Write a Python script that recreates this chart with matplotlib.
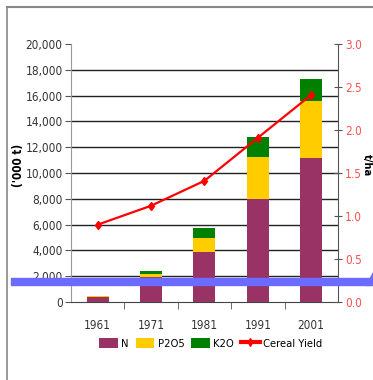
import matplotlib
matplotlib.use("Agg")
import matplotlib.pyplot as plt
from matplotlib.patches import Patch, Rectangle
from matplotlib.lines import Line2D
import numpy as np

plt.rcParams['font.family'] = ['DejaVu Sans']
plt.rcParams['font.stretch'] = 'condensed'

years = ["1961", "1971", "1981", "1991", "2001"]
n_vals = [360, 1940, 3880, 8000, 11150]
p2o5_vals = [110, 230, 1080, 3250, 4450]
k2o_vals = [30, 230, 780, 1550, 1700]
cereal_yield = [0.90, 1.12, 1.41, 1.91, 2.41]
left_ticks = [0, 2000, 4000, 6000, 8000, 10000, 12000, 14000, 16000, 18000, 20000]
right_ticks = [0.0, 0.5, 1.0, 1.5, 2.0, 2.5, 3.0]

c_n = "#993366"
c_p = "#FFCC00"
c_k = "#008000"
c_line = "#FF0000"

fig = plt.figure(figsize=(3.73, 3.80), dpi=100)
ax = fig.add_axes([0.190, 0.205, 0.716, 0.679])

x = np.arange(len(years))
w = 0.41
n = np.array(n_vals)
p = np.array(p2o5_vals)
k = np.array(k2o_vals)
ax.bar(x, n, w, color=c_n, zorder=3)
ax.bar(x, p, w, bottom=n, color=c_p, zorder=3)
ax.bar(x, k, w, bottom=n + p, color=c_k, zorder=3)

ax.set_xlim(-0.5, len(years) - 0.5)
ax.set_ylim(0, 20000)
ax.set_yticks(left_ticks)
ax.set_yticklabels([f"{v:,}" for v in left_ticks], fontsize=8.5, color="#333333")
for v in left_ticks[1:-1]:
    ax.axhline(v, color="#222222", lw=1.0, zorder=1)

ax.set_xticks(x)
ax.set_xticklabels(years, fontsize=8.5, color="#333333")
ax.tick_params(axis="x", length=0, pad=12)
ax.set_xticks(np.arange(0.5, len(years) - 0.5, 1.0), minor=True)
ax.tick_params(axis="x", which="minor", length=5, direction="out", color="#555555")
ax.tick_params(axis="y", length=4, direction="out", color="#555555", pad=2)

for s in ["top", "right"]:
    ax.spines[s].set_visible(False)
ax.spines["left"].set_color("#999999")
ax.spines["bottom"].set_color("#444444")
ax.set_ylabel("('000 t)", fontsize=8.5, fontweight="bold")
ax.yaxis.set_label_coords(-0.172, 0.53)

ax2 = ax.twinx()
ax2.plot(x, cereal_yield, color=c_line, lw=1.6, marker="d", ms=4.5, zorder=5)
ax2.set_ylim(0, 3.0)
ax2.set_yticks(right_ticks)
ax2.set_yticklabels([f"{v:.1f}" for v in right_ticks], fontsize=8.5, color="#FF5050")
ax2.tick_params(axis="y", length=6, direction="inout", color="#555555", pad=2)
for s in ["top", "left", "bottom"]:
    ax2.spines[s].set_visible(False)
ax2.spines["right"].set_color("#555555")
ax2.set_ylabel("t/ha", fontsize=8, fontweight="bold", rotation=270, va="center")
ax2.yaxis.set_label_coords(1.107, 0.53)

handles = [
    Patch(facecolor=c_n, label="N"),
    Patch(facecolor=c_p, label="P2O5"),
    Patch(facecolor=c_k, label="K2O"),
    Line2D([0], [0], color=c_line, lw=3, marker="d", ms=4, label="Cereal Yield"),
]
fig.legend(handles=handles, loc="center", bbox_to_anchor=(0.565, 0.097), ncol=4,
           frameon=False, fontsize=8, handlelength=1.7, handleheight=1.1,
           handletextpad=0.3, columnspacing=0.6)

# outer frame lines
fig.add_artist(Line2D([7 / 373, 7 / 373], [0, 1 - 7 / 380], transform=fig.transFigure,
                      color="#888888", lw=1.2))
fig.add_artist(Line2D([7 / 373, 1], [1 - 7 / 380, 1 - 7 / 380], transform=fig.transFigure,
                      color="#888888", lw=1.5))

# blue marker band across the chart
fig.add_artist(Rectangle((11 / 373, 1 - 285 / 380), (369 - 11) / 373, 7.5 / 380,
                         transform=fig.transFigure, color="#6B6BFF", zorder=10))
fig.add_artist(plt.Polygon([[366 / 373, 1 - 285 / 380], [373 / 373, 1 - 285 / 380],
                            [373 / 373, 1 - 272 / 380]],
                           transform=fig.transFigure, color="#6B6BFF", zorder=10))

fig.savefig("out.png", dpi=100)
